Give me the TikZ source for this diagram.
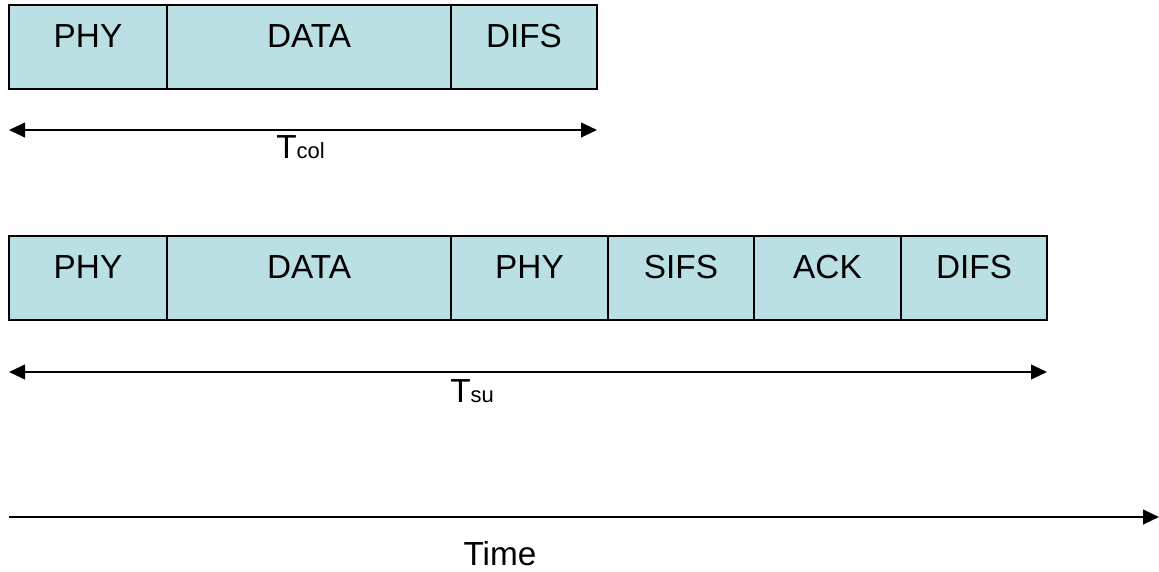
\documentclass[tikz,border=0pt]{standalone}
\usepackage{fontspec}
\setmainfont{Liberation Sans}
\usetikzlibrary{positioning,arrows.meta}
\definecolor{slotblue}{RGB}{186,224,227}

\begin{document}
\begin{tikzpicture}[x=0.75pt,y=0.75pt,yscale=-1,xscale=1,
  slot/.style={draw, line width=0.9pt, fill=slotblue, inner xsep=0pt, inner ysep=0pt, outer sep=0pt,
    minimum width=#1*0.75pt, text height=31.5pt, text depth=31.5pt, font=\fontsize{25}{28}\selectfont},
  span/.style={line width=1.5pt, {Triangle[length=12pt,width=11pt]}-{Triangle[length=12pt,width=11pt]}},
  lbl/.style={inner sep=0pt, font=\fontsize{25}{28}\selectfont}]
\useasboundingbox (0,0) rectangle (1159,571);

%Frame: collision [id:row1]
\node[slot=158, anchor=north west] (phyA) at (9,5) {PHY};
\node[slot=284, right=0pt of phyA] (dataA) {DATA};
\node[slot=146, right=0pt of dataA] (difsA) {DIFS};

%Frame: success [id:row2]
\node[slot=158, anchor=north west] (phyB) at (9,236) {PHY};
\node[slot=284, right=0pt of phyB] (dataB) {DATA};
\node[slot=157, right=0pt of dataB] (phyC) {PHY};
\node[slot=146, right=0pt of phyC] (sifsB) {SIFS};
\node[slot=147, right=0pt of sifsB] (ackB) {ACK};
\node[slot=146, right=0pt of ackB] (difsB) {DIFS};

%Arrow ends
\coordinate (colL) at (9,130);
\coordinate (colR) at (597,130);
\coordinate (suL) at (9,372);
\coordinate (suR) at (1047,372);
\coordinate (timeL) at (9,517);
\coordinate (timeR) at (1159,517);

%Straight Lines [id:spans]
\draw[span] (colL) -- (colR);
\draw[span] (suL) -- (suR);
\draw[line width=1.5pt, -{Triangle[length=12pt,width=11pt]}] (timeL) -- (timeR);

% Text Node
\node[lbl, anchor=base west] (tcol) at (276,158) {T{\fontsize{16.5}{18}\selectfont col}};
% Text Node
\node[lbl, anchor=base west] (tsu) at (450,402) {T{\fontsize{16.5}{18}\selectfont su}};
% Text Node
\node[lbl, anchor=base] (time) at (500,565) {Time};

\end{tikzpicture}
\end{document}
